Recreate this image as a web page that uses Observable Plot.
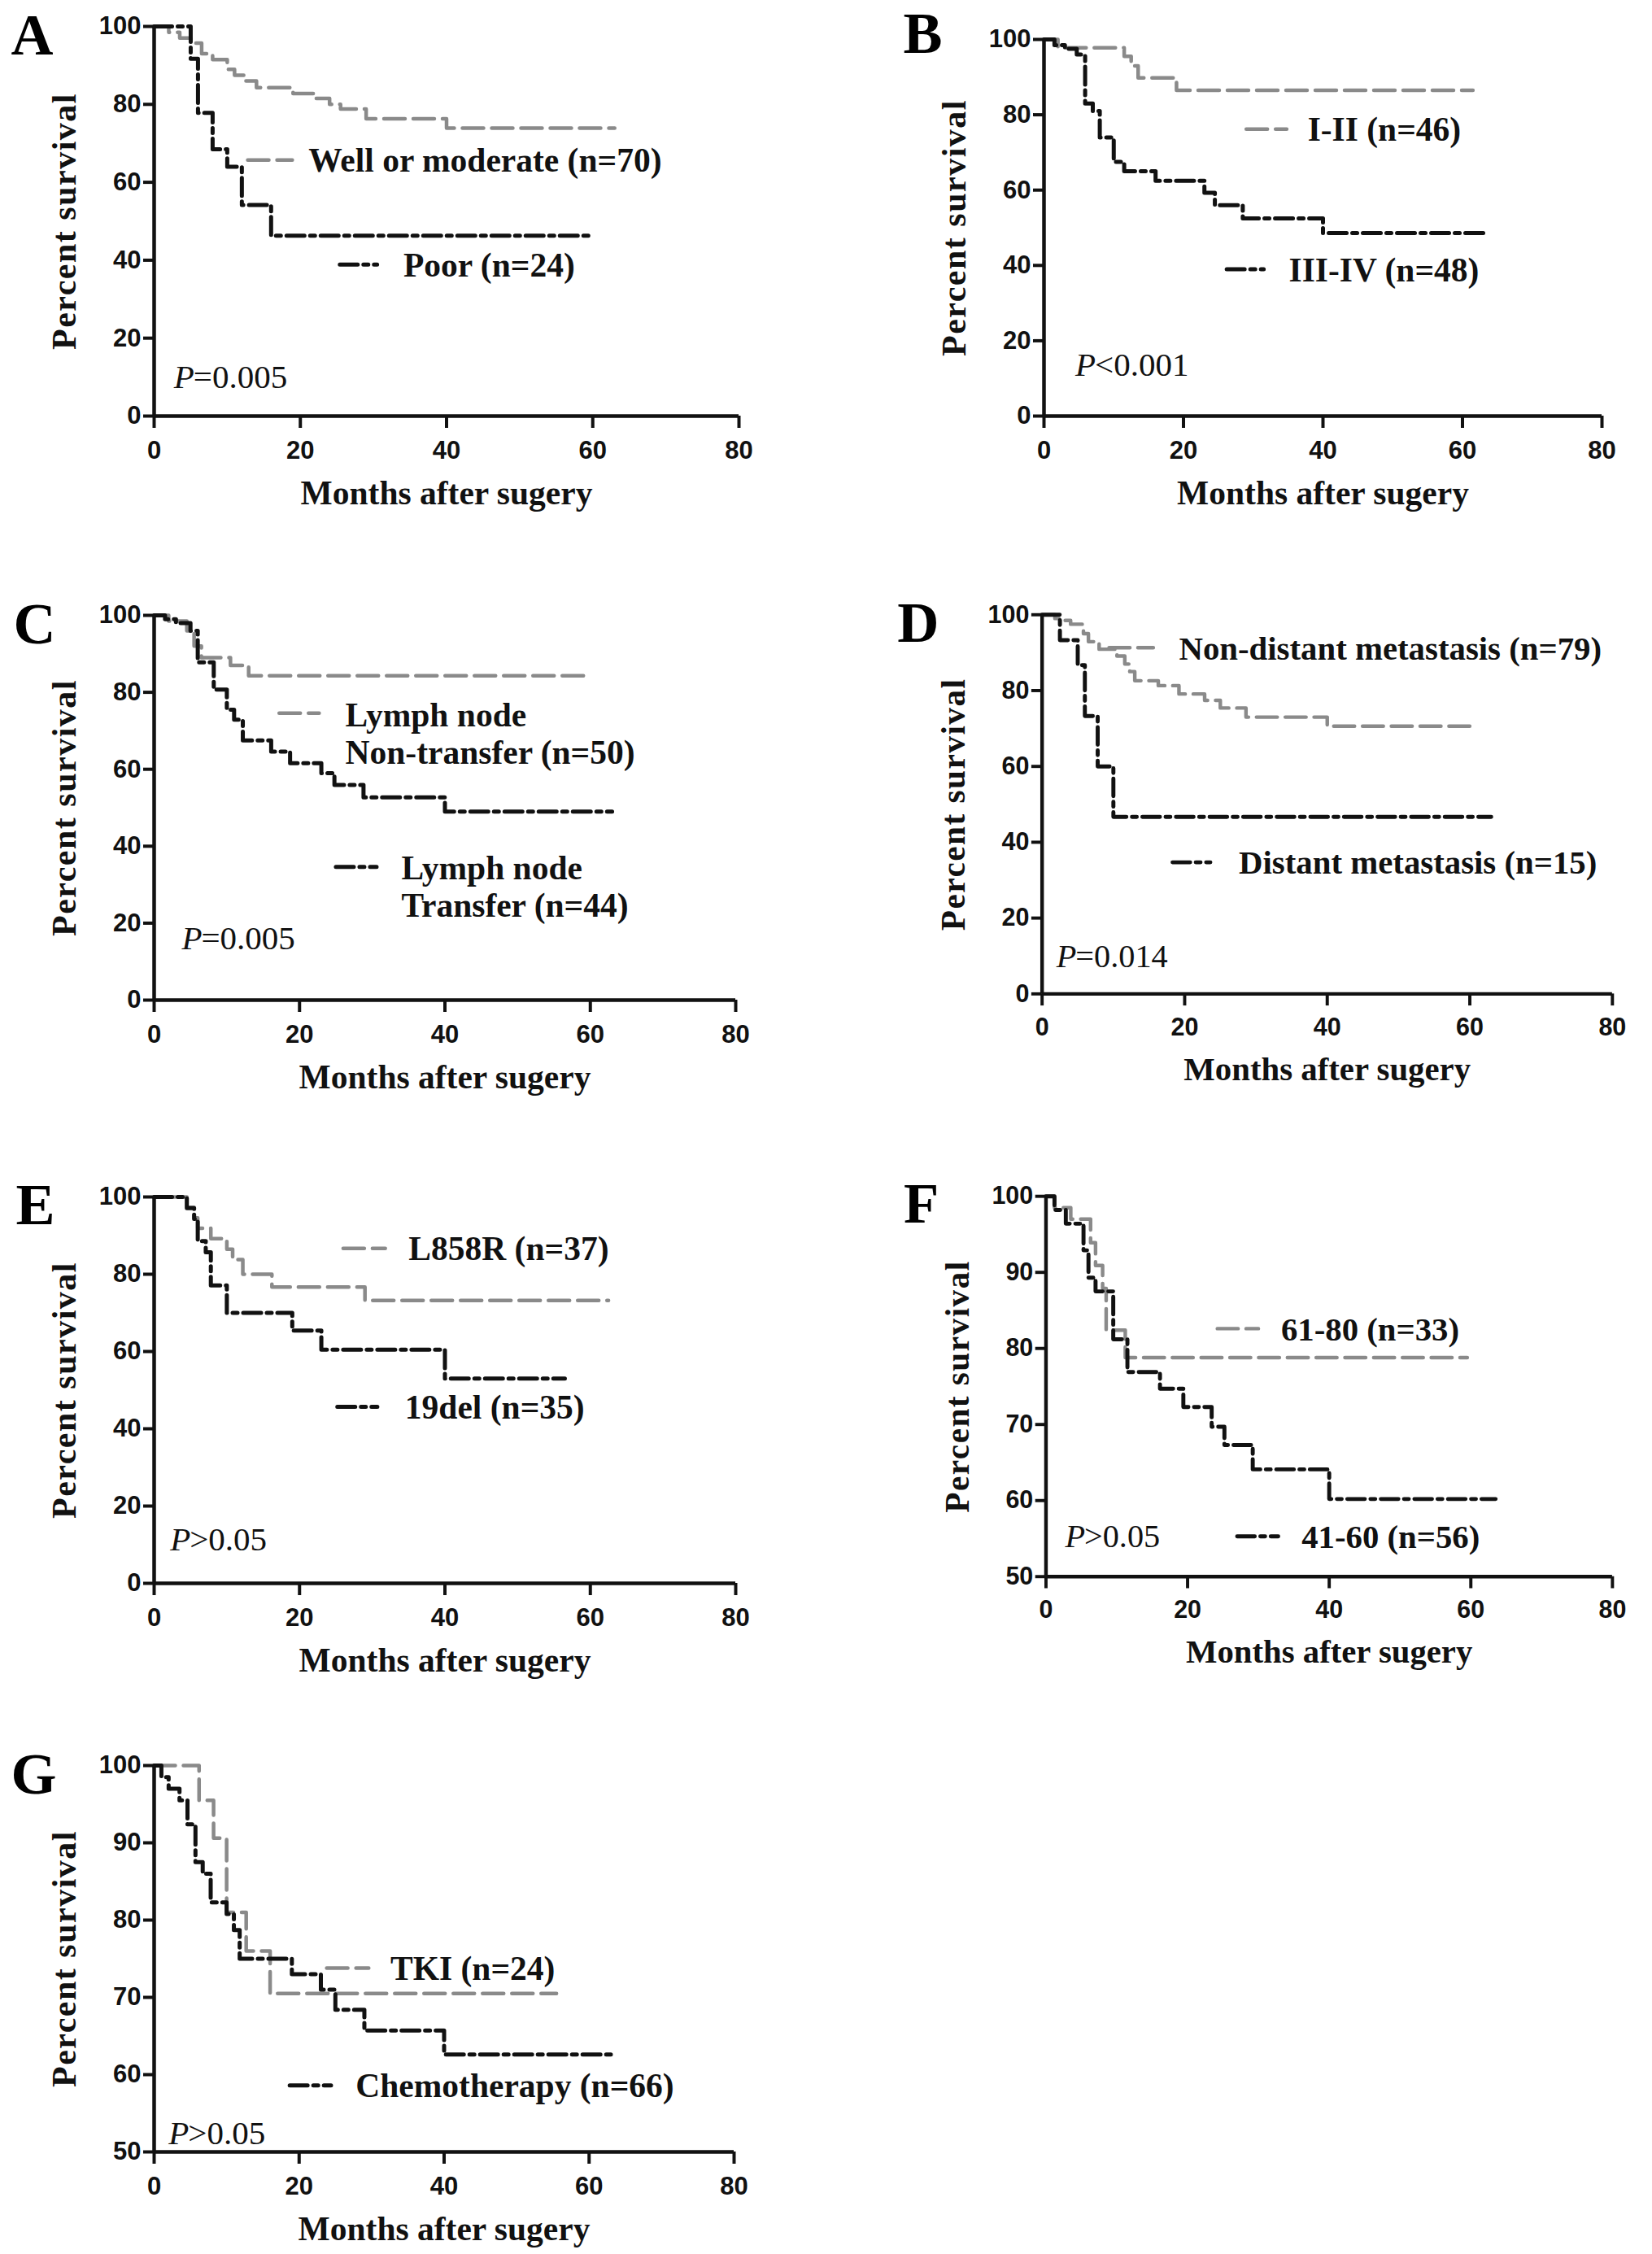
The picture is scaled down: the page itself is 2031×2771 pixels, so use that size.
<!DOCTYPE html>
<html>
<head>
<meta charset="utf-8">
<script src="https://cdn.jsdelivr.net/npm/d3@7"></script>
<script src="https://cdn.jsdelivr.net/npm/@observablehq/plot@0.6"></script>
<style>
  html, body { margin: 0; padding: 0; background: #fff; overflow: hidden; }
  #page { position: relative; width: 2031px; height: 2771px; overflow: hidden; background: #fff; }
  .panel { position: absolute; }
  .panel svg { overflow: visible; }
</style>
</head>
<body>
<div id="page"></div>
<script>
// Kaplan-Meier curves: [month, percent surviving].
// The last point is where follow-up ends (same survival as the step before).
const X_TICKS = [0, 20, 40, 60, 80];
const Y_TICKS_FULL = [0, 20, 40, 60, 80, 100];
const Y_TICKS_HALF = [50, 60, 70, 80, 90, 100];

// A: differentiation
const aWell = [[0,100],[2,98.5],[3.5,97],[5,95.7],[6.5,93],[8,91.5],[10,89],[11,87.5],[12.5,86],[14,84.3],[19,82.8],[22,81.5],[24,80],[25.5,78.8],[29,76.3],[40,73.9],[63,73.9]];
const aPoor = [[0,100],[5,91.7],[6,77.8],[8,68.5],[10,64],[12,54.2],[16,46.3],[59.5,46.3]];

// B: stage
const bEarly = [[0,100],[2,97.8],[11.5,95.5],[12.5,93],[13.5,89.8],[19,86.5],[61.5,86.5]];
const bLate = [[0,100],[1.5,98.5],[3,97.5],[4.7,96],[5.9,83],[7,81],[8,74],[10,67.5],[11.5,65],[16,62.5],[23,59.3],[24.5,56],[28.5,52.5],[40,48.6],[63,48.6]];

// C: lymph node
const cNonTransfer = [[0,100],[2,98.5],[4.5,96],[5.5,92],[6.5,89],[10.5,87],[13,84.3],[60,84.3]];
const cTransfer = [[0,100],[1.5,99],[3,98],[5,96],[6,87.8],[8.2,80.7],[10,75.5],[11,72.9],[12.2,67.5],[16.1,64.6],[18.7,61.6],[23,59],[24.8,55.9],[28.8,52.7],[40,49],[63,49]];

// D: distant metastasis
const dNonDistant = [[0,100],[1.8,99],[3,98.5],[4,97.5],[5.8,95],[6.5,92.9],[8,90.9],[10.5,89.1],[11.6,87],[12.3,85],[13,82.6],[16.3,81.3],[19.2,79.1],[22.8,77.4],[25,75.4],[28.6,73],[40,70.6],[61,70.6]];
const dDistant = [[0,100],[2.5,93.3],[5,86.7],[6,73.3],[7.8,60],[10,46.7],[63,46.7]];

// E: mutation type
const eL858R = [[0,100],[4.5,97.3],[5.5,94.6],[6,91.9],[7.8,89.2],[10,86.5],[10.8,83.8],[12.2,80],[16.2,76.7],[29,73.2],[62.5,73.2]];
const e19del = [[0,100],[4.5,97.1],[5.5,94.3],[6,88.6],[7.1,85.7],[7.8,77.1],[10,70],[19,65.4],[23,60.5],[40,53],[56.5,53]];

// F: age
const fAge6180 = [[0,100],[1.2,98.5],[3.5,97],[6.3,93.9],[7,90.9],[8,87.9],[8.5,82.4],[11.2,78.8],[59.5,78.8]];
const fAge4160 = [[0,100],[1.2,98.2],[2.8,96.4],[5.3,92.9],[6,89.3],[7,87.5],[9.5,81.2],[11.5,76.9],[16.1,74.7],[19.4,72.3],[23.4,69.7],[25.2,67.3],[29.2,64.1],[40,60.2],[63.5,60.2]];

// G: treatment
const gTKI = [[0,100],[6.2,95.5],[8.2,90.6],[10,81],[12.7,76],[16,70.5],[55.5,70.5]];
const gChemo = [[0,100],[1,98.5],[2,97],[3.5,95.5],[4.6,92.4],[5.7,87.5],[6.7,86],[7.8,82.3],[10,80.8],[11,78.7],[11.8,75],[19,73],[23,71],[25,68.4],[29,65.7],[40,62.6],[63,62.6]];

const GRAY = { stroke: "#8a8a8a", strokeWidth: 4.5, strokeDasharray: "26,10" };
const BLACK = { stroke: "#111", strokeWidth: 5, strokeDasharray: "22,7,6,7" };
const SERIF = "'Liberation Serif', 'Times New Roman', serif";
const SANS = "'Liberation Sans', Arial, sans-serif";

const M = { left: 200, right: 50, top: 45, bottom: 150 };

// frame = plot area in page pixels; notes = legend sample + label, in data units
const panels = [
  { letter: "A", frame: [189, 32, 908, 511], letterDx: -176, letterDy: 34, y: [0, 100], yTicks: Y_TICKS_FULL,
    curves: [[aWell, GRAY], [aPoor, BLACK]],
    notes: [
      { style: GRAY, x1: 12.8, x2: 18.9, y: 65.7, tx: 21.1, text: "Well or moderate (n=70)" },
      { style: BLACK, x1: 25.4, x2: 30.5, y: 38.9, tx: 34.1, text: "Poor (n=24)" }],
    p: { x: 2.7, y: 10, text: "=0.005" } },
  { letter: "B", frame: [1283, 48, 1969, 511], letterDx: -173, letterDy: 16, y: [0, 100], yTicks: Y_TICKS_FULL,
    curves: [[bEarly, GRAY], [bLate, BLACK]],
    notes: [
      { style: GRAY, x1: 29, x2: 34.8, y: 76.2, tx: 37.8, text: "I-II (n=46)" },
      { style: BLACK, x1: 26.2, x2: 31.5, y: 39, tx: 35.1, text: "III-IV (n=48)" }],
    p: { x: 4.5, y: 13.5, text: "<0.001" } },
  { letter: "C", frame: [189, 756, 904, 1229], letterDx: -173, letterDy: 34, y: [0, 100], yTicks: Y_TICKS_FULL,
    curves: [[cNonTransfer, GRAY], [cTransfer, BLACK]],
    notes: [
      { style: GRAY, x1: 17.2, x2: 22.7, y: 74.6, tx: 26.3, ty: 69.4, text: "Lymph node\nNon-transfer (n=50)" },
      { style: BLACK, x1: 25, x2: 30.6, y: 34.6, tx: 34, ty: 29.6, text: "Lymph node\nTransfer (n=44)" }],
    p: { x: 3.8, y: 15.9, text: "=0.005" } },
  { letter: "D", frame: [1284, 756, 1997, 1230], letterDx: -181, letterDy: 34, y: [0, 100], yTicks: Y_TICKS_FULL,
    curves: [[dNonDistant, GRAY], [dDistant, BLACK]],
    notes: [
      { style: GRAY, x1: 9.4, x2: 15.6, y: 91.3, tx: 19.2, text: "Non-distant metastasis (n=79)" },
      { style: BLACK, x1: 18.3, x2: 23.6, y: 34.7, tx: 27.6, text: "Distant metastasis (n=15)" }],
    p: { x: 2, y: 9.8, text: "=0.014" } },
  { letter: "E", frame: [189, 1471, 904, 1946], letterDx: -170, letterDy: 33, y: [0, 100], yTicks: Y_TICKS_FULL,
    curves: [[eL858R, GRAY], [e19del, BLACK]],
    notes: [
      { style: GRAY, x1: 26, x2: 31.8, y: 86.7, tx: 35, text: "L858R (n=37)" },
      { style: BLACK, x1: 25.2, x2: 30.7, y: 45.7, tx: 34.5, text: "19del (n=35)" }],
    p: { x: 2.2, y: 11.3, text: ">0.05" } },
  { letter: "F", frame: [1289, 1471, 1998, 1947], letterDx: -178, letterDy: 33, y: [50, 100], yTicks: Y_TICKS_HALF,
    curves: [[fAge6180, GRAY], [fAge4160, BLACK]],
    notes: [
      { style: GRAY, x1: 24.2, x2: 30, y: 82.6, tx: 33.2, text: "61-80 (n=33)" },
      { style: BLACK, x1: 27, x2: 32.8, y: 55.3, tx: 36.1, text: "41-60 (n=56)" }],
    p: { x: 2.7, y: 55.3, text: ">0.05" } },
  { letter: "G", frame: [189, 2170, 902, 2645], letterDx: -176, letterDy: 34, y: [50, 100], yTicks: Y_TICKS_HALF,
    curves: [[gTKI, GRAY], [gChemo, BLACK]],
    notes: [
      { style: GRAY, x1: 23.8, x2: 29.6, y: 73.8, tx: 32.6, text: "TKI (n=24)" },
      { style: BLACK, x1: 18.7, x2: 24.4, y: 58.6, tx: 27.8, text: "Chemotherapy (n=66)" }],
    p: { x: 2, y: 52.4, text: ">0.05" } }
];

function toRows(pairs) {
  return pairs.map(([t, s]) => ({ t, s }));
}

function drawPanel(cfg) {
  const [fx0, fy0, fx1, fy1] = cfg.frame;
  const w = fx1 - fx0, h = fy1 - fy0;
  const lab = { fontFamily: SERIF, fontWeight: "bold", fontSize: 41.5, fill: "#111" };

  const marks = [];
  for (const [pairs, style] of cfg.curves) {
    marks.push(Plot.line(toRows(pairs), { x: "t", y: "s", curve: "step-after", ...style }));
  }
  for (const n of cfg.notes) {
    marks.push(Plot.line([{ t: n.x1, s: n.y }, { t: n.x2, s: n.y }], { x: "t", y: "s", ...n.style }));
    marks.push(Plot.text([n.text], {
      x: () => n.tx, y: () => (n.ty ?? n.y), text: (d) => d,
      textAnchor: "start", lineHeight: 1.1, ...lab
    }));
  }
  // P value: italic P followed by the roman remainder
  marks.push(Plot.text(["P"], { x: () => cfg.p.x, y: () => cfg.p.y, text: (d) => d, textAnchor: "start",
    fontFamily: SERIF, fontStyle: "italic", fontSize: 41, fill: "#111" }));
  marks.push(Plot.text([cfg.p.text], { x: () => cfg.p.x, y: () => cfg.p.y, text: (d) => d, textAnchor: "start",
    dx: 24, fontFamily: SERIF, fontSize: 41, fill: "#111" }));

  // axes
  marks.push(
    Plot.axisX({ ticks: X_TICKS, tickSize: 15, tickPadding: 15, strokeWidth: 4, label: null,
      fontFamily: SANS, fontWeight: "bold", fontSize: 31, fill: "#111", stroke: "#111" }),
    Plot.axisY({ ticks: cfg.yTicks, tickSize: 13, tickPadding: 3, strokeWidth: 4, label: null,
      fontFamily: SANS, fontWeight: "bold", fontSize: 31, fill: "#111", stroke: "#111" }),
    Plot.ruleX([0], { y1: cfg.y[0], y2: cfg.y[1], stroke: "#111", strokeWidth: 4.5 }),
    Plot.ruleY([cfg.y[0]], { x1: 0, x2: 80, stroke: "#111", strokeWidth: 4.5 }),
    Plot.text(["Percent survival"], { frameAnchor: "left", dx: -110, rotate: -90, textAnchor: "middle",
      text: (d) => d, ...lab, fontSize: 42 }),
    Plot.text(["Months after sugery"], { frameAnchor: "bottom", dy: 108, textAnchor: "middle",
      text: (d) => d, ...lab }),
    Plot.text([cfg.letter], { frameAnchor: "top-left", dx: cfg.letterDx, dy: cfg.letterDy, text: (d) => d,
      textAnchor: "start", lineAnchor: "bottom", fontFamily: SERIF, fontWeight: "bold", fontSize: 72, fill: "#000" })
  );

  const plot = Plot.plot({
    width: w + M.left + M.right,
    height: h + M.top + M.bottom,
    marginLeft: M.left, marginRight: M.right, marginTop: M.top, marginBottom: M.bottom,
    style: { background: "transparent", color: "#111", overflow: "visible" },
    x: { domain: [0, 80] },
    y: { domain: cfg.y },
    marks
  });

  // the printed y title is slightly letter-spaced
  d3.select(plot).selectAll("text")
    .filter(function () { return this.textContent === "Percent survival"; })
    .attr("letter-spacing", 1.5);

  const div = document.createElement("div");
  div.className = "panel";
  div.style.left = (fx0 - M.left) + "px";
  div.style.top = (fy0 - M.top) + "px";
  div.appendChild(plot);
  document.getElementById("page").appendChild(div);
}

panels.forEach(drawPanel);
</script>
</body>
</html>
